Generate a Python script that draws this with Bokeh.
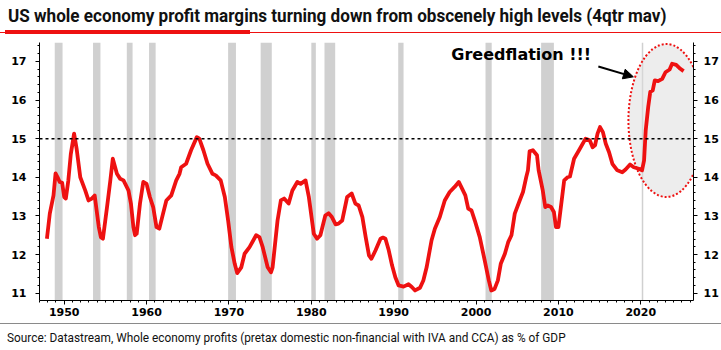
from bokeh.plotting import figure
from bokeh.models import (Range1d, LinearAxis, FixedTicker, Span, BoxAnnotation,
                          Arrow, NormalHead, Div, ColumnDataSource)
from bokeh.layouts import column
from bokeh.core.properties import value
from bokeh.embed import file_html
from bokeh.resources import INLINE

# ---------------- data ----------------
title_text = "US whole economy profit margins turning down from obscenely high levels (4qtr mav)"
source_text = "Source: Datastream, Whole economy profits (pretax domestic non-financial with IVA and CCA) as % of GDP"
annotation_text = "Greedflation !!!"

years = [1947.9, 1948.25, 1948.7, 1948.95, 1949.2, 1949.45, 1949.75, 1950.0, 1950.2, 1950.5,
         1950.8, 1951.2, 1951.5, 1951.95, 1952.55, 1952.95, 1953.35, 1953.7, 1954.2, 1954.45,
         1954.7, 1955.2, 1955.6, 1955.9, 1956.4, 1956.8, 1957.2, 1957.8, 1958.1, 1958.4,
         1958.6, 1958.8, 1959.2, 1959.6, 1960.0, 1960.4, 1960.8, 1961.2, 1961.55, 1962.0,
         1962.4, 1963.0, 1963.6, 1964.0, 1964.2, 1964.8, 1965.4, 1966.1, 1966.4, 1966.9,
         1967.4, 1968.0, 1968.4, 1969.0, 1969.5, 1969.9, 1970.3, 1970.7, 1971.0, 1971.5,
         1971.9, 1972.5, 1973.3, 1973.7, 1974.1, 1974.7, 1975.1, 1975.3, 1975.9, 1976.3,
         1976.7, 1977.25, 1977.7, 1978.3, 1978.7, 1979.3, 1979.7, 1980.3, 1980.7, 1981.1,
         1981.7, 1982.1, 1982.5, 1982.95, 1983.3, 1983.75, 1984.35, 1984.9, 1985.35, 1985.75,
         1986.2, 1986.6, 1987.0, 1987.3, 1987.8, 1988.4, 1988.7, 1989.0, 1989.4, 1989.8,
         1990.2, 1990.6, 1991.2, 1991.8, 1992.2, 1992.6, 1993.2, 1993.6, 1994.0, 1994.6,
         1995.0, 1995.6, 1996.2, 1996.8, 1997.4, 1997.9, 1998.2, 1998.7, 1999.05, 1999.45,
         1999.85, 2000.45, 2001.05, 2001.55, 2001.85, 2002.25, 2002.65, 2003.0, 2003.5, 2003.9,
         2004.3, 2004.7, 2005.3, 2005.7, 2006.1, 2006.3, 2006.5, 2006.9, 2007.4, 2007.6,
         2008.1, 2008.4, 2008.7, 2009.1, 2009.45, 2009.7, 2010.0, 2010.3, 2010.7, 2011.1,
         2011.4, 2011.9, 2012.5, 2013.3, 2013.8, 2014.15, 2014.45, 2014.75, 2015.05, 2015.4,
         2015.75, 2016.15, 2016.55, 2017.15, 2017.75, 2018.15, 2018.7, 2019.15, 2019.75, 2020.15,
         2020.4, 2020.6, 2020.9, 2021.15, 2021.45, 2021.7, 2022.1, 2022.6, 2023.0, 2023.5,
         2023.8, 2024.3, 2024.8, 2025.2]
margin = [12.41, 13.06, 13.53, 14.10, 14.00, 13.88, 13.86, 13.49, 13.45, 13.92,
          14.60, 15.13, 14.75, 14.00, 13.66, 13.40, 13.45, 13.53, 12.71, 12.45,
          12.41, 13.23, 13.92, 14.48, 14.09, 13.96, 13.92, 13.66, 13.32, 12.71,
          12.50, 12.54, 13.32, 13.88, 13.83, 13.49, 13.23, 12.71, 12.67, 13.06,
          13.40, 13.53, 13.92, 14.09, 14.26, 14.35, 14.70, 15.04, 15.00, 14.70,
          14.35, 14.09, 14.05, 13.92, 13.49, 12.88, 12.19, 11.76, 11.52, 11.67,
          12.02, 12.19, 12.50, 12.45, 12.19, 11.67, 11.54, 11.67, 12.88, 13.40,
          13.45, 13.32, 13.66, 13.88, 13.83, 13.92, 13.49, 12.54, 12.41, 12.50,
          13.01, 13.07, 12.97, 12.78, 12.80, 12.88, 13.49, 13.58, 13.32, 13.27,
          12.97, 12.45, 11.98, 11.89, 12.11, 12.41, 12.44, 12.41, 12.11, 11.72,
          11.41, 11.20, 11.17, 11.23, 11.16, 11.07, 11.14, 11.33, 11.67, 12.37,
          12.67, 12.97, 13.40, 13.62, 13.75, 13.88, 13.75, 13.53, 13.19, 13.14,
          12.88, 12.45, 11.85, 11.33, 11.07, 11.11, 11.33, 11.76, 12.02, 12.32,
          12.50, 13.06, 13.40, 13.62, 14.01, 14.18, 14.67, 14.70, 14.57, 14.18,
          13.66, 13.23, 13.27, 13.23, 13.10, 12.71, 12.71, 13.23, 13.92, 14.00,
          14.02, 14.48, 14.70, 15.00, 14.96, 14.78, 14.83, 15.13, 15.30, 15.17,
          14.87, 14.65, 14.35, 14.18, 14.13, 14.20, 14.33, 14.26, 14.22, 14.18,
          14.44, 15.22, 15.82, 16.21, 16.25, 16.51, 16.49, 16.55, 16.72, 16.79,
          16.94, 16.91, 16.81, 16.75]

rec_start = [1948.85, 1953.5, 1957.6, 1960.3, 1969.9, 1973.85, 1980.0, 1981.6, 1990.55, 2001.15, 2007.9, 2020.12]
rec_end   = [1949.8, 1954.4, 1958.3, 1961.1, 1970.85, 1975.2, 1980.55, 1982.9, 1991.2, 2001.9, 2009.45, 2020.3]

x_ticks = [1950, 1960, 1970, 1980, 1990, 2000, 2010, 2020]
y_ticks = [11, 12, 13, 14, 15, 16, 17]
threshold = 15

# ---------------- figure ----------------
RED = "#ee1111"
p = figure(width=721, height=284, output_backend="svg", toolbar_location=None,
           x_range=Range1d(1947.0, 2026.4), y_range=Range1d(10.81, 17.49),
           min_border_left=39, min_border_right=25, min_border_top=4, min_border_bottom=22,
           y_axis_location=None)
p.outline_line_color = None
p.xgrid.visible = False
p.ygrid.visible = False
p.background_fill_color = "white"

# recession bars
for s, e in zip(rec_start, rec_end):
    p.add_layout(BoxAnnotation(left=s, right=e, fill_color="#d0d0d0", fill_alpha=1.0,
                               line_color=None, level="underlay"))

# highlight ellipse
p.ellipse(x=[2023.1], y=[15.47], width=[9.2], height=[3.96],
          fill_color="#dcdcdc", fill_alpha=0.5, line_color=RED,
          line_dash="2 2", line_width=2)

# threshold dashed line
p.add_layout(Span(location=threshold, dimension="width", line_color="black",
                  line_dash="3 3", line_width=1.5))

# main line
src = ColumnDataSource(dict(x=years, y=margin))
p.line("x", "y", source=src, line_color=RED, line_width=3.8, line_join="round")

# annotation text and arrow
p.text(x=[1997.0], y=[17.17], text=[annotation_text], text_baseline="middle",
       text_align="left", text_font=value("DejaVu Sans"), text_font_style="bold",
       text_font_size="16px", text_color="black")
p.add_layout(Arrow(end=NormalHead(size=10, fill_color="black", line_color="black"),
                   x_start=2014.85, y_start=16.87, x_end=2019.1, y_end=16.6,
                   line_color="black", line_width=2))

# axes
def style_axis(ax):
    ax.axis_line_color = "black"
    ax.axis_line_width = 1
    ax.major_tick_line_color = "black"
    ax.minor_tick_line_color = "black"
    ax.major_tick_in = 0
    ax.minor_tick_in = 0
    ax.major_tick_out = 4
    ax.minor_tick_out = 2
    ax.major_label_text_font = "DejaVu Sans"
    ax.major_label_text_font_style = "bold"
    ax.major_label_text_font_size = "11px"
    ax.major_label_text_color = "black"

xa = p.xaxis[0]
xa.ticker = FixedTicker(ticks=x_ticks, minor_ticks=list(range(1947, 2027)))
style_axis(xa)
xa.major_label_standoff = 3

minor_y = [round(10.8 + 0.2 * i, 1) for i in range(34)]
ya = LinearAxis(ticker=FixedTicker(ticks=y_ticks, minor_ticks=minor_y))
style_axis(ya)
ya.major_label_standoff = 9
p.add_layout(ya, "left")

yr = LinearAxis(ticker=FixedTicker(ticks=y_ticks, minor_ticks=minor_y))
style_axis(yr)
yr.major_label_standoff = 6
p.add_layout(yr, "right")

# ---------------- header / footer ----------------
header = Div(width=721, height=38, margin=(0, 0, 0, 0), text=f"""
<div style="position:relative;width:721px;height:38px;">
  <div style="position:absolute;left:8px;top:3px;white-space:nowrap;font-family:Roboto;font-weight:700;
              font-size:18px;color:#111;transform:scaleX(0.95);transform-origin:left top;">{title_text}</div>
  <div style="position:absolute;left:0px;top:32px;width:721px;height:1px;background:{RED};"></div>
  <div style="position:absolute;left:5px;top:30px;width:245px;height:4px;background:{RED};"></div>
</div>""")

footer = Div(width=721, height=28, margin=(0, 0, 0, 0), text=f"""
<div style="position:relative;width:721px;height:28px;">
  <div style="position:absolute;left:0px;top:1px;width:721px;height:1px;background:#8a8a8a;"></div>
  <div style="position:absolute;left:7px;top:7px;white-space:nowrap;font-family:Roboto;font-weight:400;
              font-size:13px;color:#111;transform:scaleX(0.91);transform-origin:left top;">{source_text}</div>
</div>""")

layout = column(header, p, footer, spacing=0)
open("out.html", "w").write(file_html(layout, INLINE))
